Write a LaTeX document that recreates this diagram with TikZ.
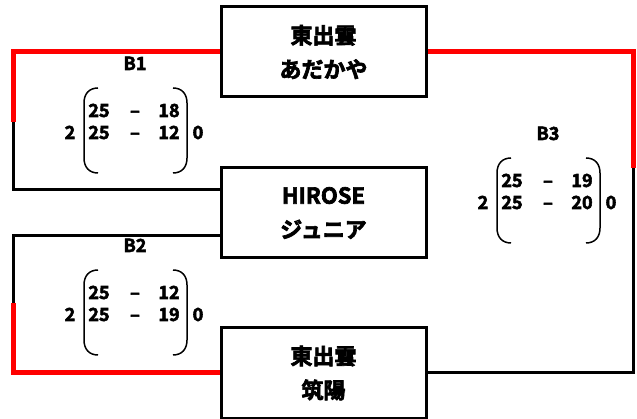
\documentclass[tikz,border=0pt]{standalone}
\usepackage{fontspec}
\setmainfont{Noto Sans CJK JP Bold}[FakeBold=3]
\usepackage{xcolor}
\definecolor{WinRed}{rgb}{1, 0, 0}
\usetikzlibrary{calc, positioning}

\begin{document}
\begin{tikzpicture}[
    x=1pt, y=-1pt,
    team/.style={draw, line width=3pt, minimum width=205pt, minimum height=90pt, inner sep=0pt, align=center, font=\fontsize{22}{34}\selectfont},
    line_lose/.style={line width=3pt},
    line_win/.style={WinRed, line width=5pt},
    score/.style={font=\fontsize{18}{18}\selectfont, inner sep=0pt, anchor=base},
    paren/.style={line width=1.5pt}
]
    \useasboundingbox (0,0) rectangle (637,419);

    % 1. TEAMS
    \node[team] (adakaya) at (323.5,52) {東出雲\\あだかや};
    \node[team] (hirose) at (323.5,213) {HIROSE\\ジュニア};
    \node[team] (chikuyo) at (323.5,373) {東出雲\\筑陽};

    % 2. BRACKET LINES
    % B1
    \coordinate (b1top) at (13,52);
    \coordinate (b1mid) at (13,122);
    \coordinate (b1bot) at (13,190);
    \draw[line_lose] (b1mid) -- (b1bot) -- (hirose.west |- b1bot);
    \draw[line_win] (adakaya.west) -- (b1top) -- (b1mid);
    % B2
    \coordinate (b2top) at (13,236);
    \coordinate (b2mid) at (13,303);
    \coordinate (b2bot) at (13,373);
    \draw[line_lose] (hirose.west |- b2top) -- (b2top) -- (b2mid);
    \draw[line_win] (b2mid) -- (b2bot) -- (chikuyo.west);
    % B3
    \coordinate (b3top) at (633,52);
    \coordinate (b3mid) at (633,168);
    \coordinate (b3bot) at (633,373);
    \draw[line_lose] (b3mid) -- (b3bot) -- (chikuyo.east);
    \draw[line_win] (adakaya.east) -- (b3top) -- (b3mid);

    % 3. SCORES (baselines at 117 and 139)
    \foreach \bl/\dx/\dy/\ra/\rb in {1/0/0/18/12, 2/0/182/12/19, 3/413/70/19/20} {
        \begin{scope}[shift={(\dx,\dy)}]
            \node[score] (b\bl-lbl) at (135,70) {B\bl};
            \node[score] (b\bl-a1) at (99,117) {25};
            \node[score] (b\bl-d1) at (135,117) {–};
            \node[score] (b\bl-b1) at (169,117) {\ra};
            \node[score] (b\bl-a2) at (99,139) {25};
            \node[score] (b\bl-d2) at (135,139) {–};
            \node[score] (b\bl-b2) at (169,139) {\rb};
            \node[score] (b\bl-win) at (70,139) {2};
            \node[score] (b\bl-lose) at (198,139) {0};
            \draw[paren] (98,88) .. controls (89,88) and (84,94) .. (84,103) -- (84,158) .. controls (84,167) and (89,173) .. (98,173);
            \draw[paren] (173,88) .. controls (182,88) and (187,94) .. (187,103) -- (187,158) .. controls (187,167) and (182,173) .. (173,173);
        \end{scope}
    }

\end{tikzpicture}
\end{document}
